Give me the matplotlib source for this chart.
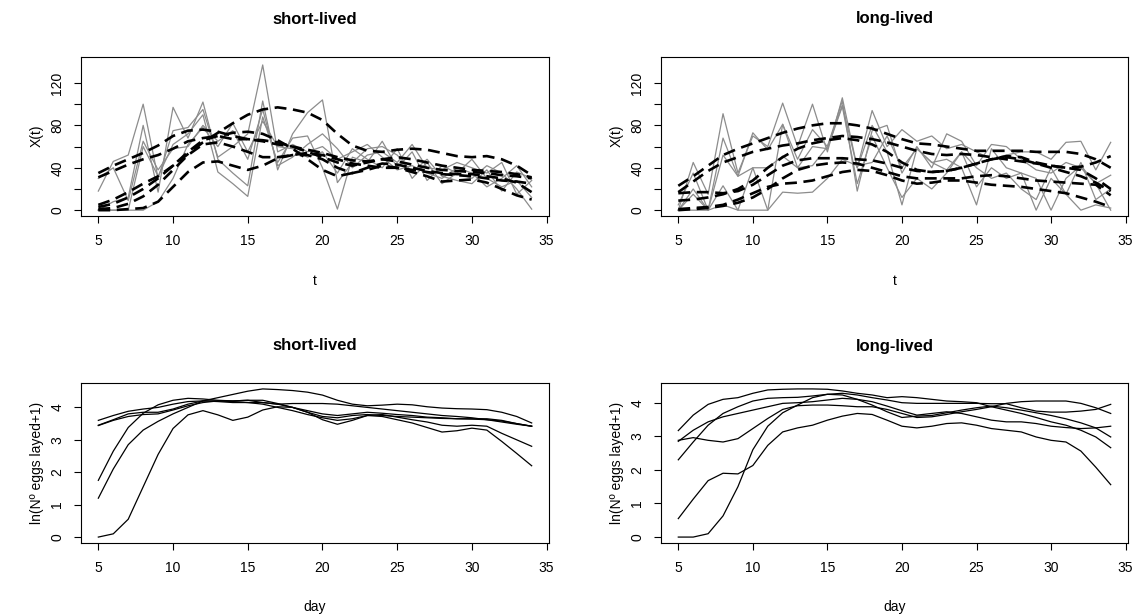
#
# Egg laying curves, short-lived vs long-lived flies (R-style 2x2 panels)
#
import matplotlib
matplotlib.use('Agg')
import matplotlib.pyplot as plt

plt.rcParams['font.family'] = ['Liberation Sans', 'DejaVu Sans']

# Data
days = list(range(5, 35))

# top left: raw counts (grey) and smoothed curves (dashed)
tl_grey = [
    [18, 46, 52, 100, 30, 75, 78, 95, 50, 60, 72, 137, 55, 62, 55, 60, 48, 55, 62, 50, 38, 42, 35, 30, 40, 35, 22, 30, 42, 22],
    [0, 8, 12, 80, 17, 97, 68, 102, 48, 35, 23, 103, 38, 72, 92, 104, 26, 45, 58, 60, 52, 36, 48, 32, 28, 25, 38, 18, 36, 30],
    [0, 0, 0, 60, 32, 62, 72, 90, 36, 25, 13, 88, 45, 68, 70, 40, 1, 50, 45, 65, 40, 55, 28, 42, 35, 48, 30, 22, 28, 12],
    [0, 0, 0, 0, 8, 30, 62, 78, 60, 82, 55, 84, 60, 58, 50, 55, 35, 58, 48, 40, 58, 30, 45, 25, 35, 30, 42, 35, 20, 1],
    [30, 40, 9, 65, 38, 58, 60, 80, 65, 75, 48, 95, 42, 50, 62, 72, 58, 40, 52, 55, 45, 62, 40, 38, 45, 40, 35, 45, 15, 28],
]
tl_dash = [
    [5, 10, 17, 25, 32, 42, 53, 64, 73, 82, 90, 95, 97, 95, 92, 85, 72, 61, 56, 55, 57, 58, 57, 54, 51, 50, 51, 48, 42, 33],
    [0, 0, 1, 2, 8, 22, 36, 45, 46, 42, 38, 42, 49, 52, 52, 48, 40, 35, 38, 42, 40, 36, 32, 27, 28, 29, 26, 20, 14, 10],
    [35, 42, 48, 54, 61, 70, 75, 76, 74, 70, 67, 65, 62, 60, 57, 54, 50, 47, 46, 48, 50, 48, 45, 42, 40, 38, 37, 36, 34, 31],
    [31, 37, 43, 48, 52, 58, 65, 68, 70, 67, 67, 66, 64, 60, 55, 50, 45, 42, 45, 48, 46, 43, 40, 38, 37, 36, 35, 33, 32, 30],
    [3, 6, 12, 20, 30, 42, 55, 66, 70, 73, 74, 72, 66, 58, 48, 38, 32, 35, 40, 44, 43, 40, 37, 35, 34, 34, 32, 30, 26, 17],
    [1, 2, 6, 13, 24, 38, 52, 62, 64, 60, 55, 50, 50, 52, 54, 52, 48, 44, 42, 40, 40, 38, 36, 34, 33, 32, 30, 28, 27, 25],
]

# top right
tr_grey = [
    [0, 45, 15, 91, 35, 70, 60, 101, 60, 100, 55, 106, 40, 94, 60, 76, 65, 70, 58, 62, 55, 48, 52, 55, 55, 48, 64, 65, 38, 64],
    [5, 35, 0, 68, 32, 73, 57, 81, 48, 76, 60, 103, 18, 75, 80, 35, 60, 40, 72, 65, 42, 62, 60, 48, 38, 35, 45, 40, 25, 33],
    [0, 15, 0, 52, 32, 40, 40, 51, 40, 42, 60, 99, 40, 80, 55, 5, 58, 45, 48, 40, 5, 58, 40, 35, 30, 0, 30, 42, 25, 0],
    [0, 0, 0, 23, 0, 0, 0, 81, 40, 60, 58, 98, 25, 70, 40, 12, 30, 20, 35, 55, 40, 30, 35, 20, 10, 40, 15, 45, 10, 20],
    [0, 20, 0, 5, 0, 40, 0, 17, 16, 17, 30, 48, 42, 45, 70, 40, 58, 45, 38, 55, 22, 40, 30, 35, 0, 30, 15, 0, 5, 2],
]
tr_dash = [
    [23, 32, 42, 52, 58, 63, 68, 73, 77, 80, 82, 82, 80, 77, 72, 67, 63, 62, 60, 58, 56, 56, 56, 56, 55, 55, 55, 53, 48, 40],
    [17, 27, 37, 45, 50, 55, 58, 61, 63, 66, 68, 70, 69, 67, 64, 60, 56, 53, 52, 53, 52, 50, 48, 46, 44, 42, 40, 38, 30, 20],
    [16, 17, 17, 16, 18, 24, 33, 42, 47, 49, 49, 49, 48, 47, 44, 40, 37, 36, 37, 40, 44, 48, 51, 50, 45, 42, 40, 41, 45, 51],
    [9, 10, 12, 15, 20, 28, 40, 50, 58, 63, 66, 68, 66, 62, 55, 45, 38, 36, 37, 40, 44, 48, 50, 48, 44, 40, 36, 32, 26, 18],
    [1, 2, 3, 5, 10, 16, 22, 25, 26, 28, 32, 36, 38, 37, 33, 28, 25, 26, 28, 28, 26, 24, 23, 22, 20, 18, 16, 12, 8, 3],
    [0, 1, 2, 4, 7, 12, 20, 30, 38, 42, 44, 45, 44, 40, 36, 32, 30, 30, 30, 30, 32, 33, 32, 30, 28, 27, 26, 25, 24, 14],
]

# bottom left: ln(eggs + 1)
bl_lines = [
    [0.0, 0.1, 0.55, 1.55, 2.55, 3.35, 3.77, 3.9, 3.77, 3.6, 3.7, 3.92, 4.02, 4.0, 3.85, 3.62, 3.48, 3.6, 3.75, 3.72, 3.62, 3.52, 3.38, 3.24, 3.28, 3.36, 3.3, 2.95, 2.58, 2.2],
    [1.2, 2.1, 2.85, 3.3, 3.57, 3.8, 4.0, 4.2, 4.2, 4.18, 4.15, 4.1, 4.0, 3.9, 3.78, 3.68, 3.6, 3.65, 3.75, 3.78, 3.7, 3.62, 3.55, 3.45, 3.42, 3.45, 3.42, 3.2, 3.0, 2.8],
    [1.75, 2.65, 3.38, 3.82, 4.08, 4.22, 4.28, 4.26, 4.22, 4.2, 4.22, 4.22, 4.12, 4.0, 3.85, 3.72, 3.68, 3.75, 3.78, 3.75, 3.72, 3.7, 3.68, 3.66, 3.65, 3.64, 3.62, 3.58, 3.5, 3.42],
    [3.6, 3.75, 3.88, 3.95, 4.0, 4.1, 4.18, 4.2, 4.3, 4.4, 4.5, 4.57, 4.55, 4.52, 4.47, 4.38, 4.22, 4.1, 4.05, 4.07, 4.1, 4.08, 4.02, 3.98, 3.96, 3.95, 3.93, 3.85, 3.72, 3.52],
    [3.44, 3.6, 3.72, 3.78, 3.8, 3.92, 4.05, 4.15, 4.2, 4.2, 4.22, 4.15, 4.1, 4.12, 4.12, 4.12, 4.1, 4.05, 4.0, 3.95, 3.9, 3.85, 3.8, 3.75, 3.72, 3.68, 3.62, 3.55, 3.48, 3.42],
    [3.45, 3.62, 3.8, 3.85, 3.85, 3.95, 4.1, 4.2, 4.18, 4.15, 4.15, 4.15, 4.1, 4.0, 3.9, 3.8, 3.75, 3.8, 3.85, 3.82, 3.78, 3.75, 3.7, 3.68, 3.65, 3.65, 3.65, 3.6, 3.5, 3.42],
]

# bottom right
br_lines = [
    [0.0, 0.0, 0.1, 0.63, 1.5, 2.6, 3.3, 3.7, 3.93, 4.15, 4.25, 4.23, 4.1, 3.93, 3.73, 3.56, 3.6, 3.62, 3.7, 3.78, 3.85, 3.9, 3.85, 3.78, 3.7, 3.62, 3.52, 3.4, 3.25, 2.98],
    [0.55, 1.13, 1.68, 1.9, 1.88, 2.13, 2.73, 3.13, 3.25, 3.33, 3.48, 3.6, 3.68, 3.65, 3.48, 3.3, 3.25, 3.3, 3.38, 3.4, 3.33, 3.23, 3.18, 3.13, 2.98, 2.88, 2.83, 2.56, 2.08, 1.56],
    [2.3, 2.83, 3.33, 3.68, 3.88, 4.05, 4.13, 4.15, 4.16, 4.2, 4.25, 4.28, 4.23, 4.15, 4.08, 4.0, 3.98, 3.98, 3.98, 3.98, 3.98, 3.97, 3.97, 3.85, 3.75, 3.72, 3.72, 3.75, 3.8, 3.95],
    [3.17, 3.63, 3.95, 4.1, 4.15, 4.28, 4.38, 4.4, 4.41, 4.41, 4.4, 4.35, 4.28, 4.23, 4.15, 4.18, 4.15, 4.1, 4.05, 4.03, 4.0, 3.88, 3.78, 3.68, 3.56, 3.43, 3.33, 3.18, 2.98, 2.66],
    [2.88, 2.96, 2.88, 2.83, 2.93, 3.23, 3.53, 3.8, 3.91, 3.93, 3.93, 3.91, 3.88, 3.88, 3.8, 3.68, 3.56, 3.58, 3.65, 3.73, 3.8, 3.88, 3.98, 4.03, 4.05, 4.05, 4.05, 3.98, 3.85, 3.68],
    [2.85, 3.18, 3.43, 3.58, 3.68, 3.78, 3.88, 3.98, 4.0, 4.03, 4.08, 4.13, 4.1, 4.03, 3.9, 3.76, 3.63, 3.68, 3.73, 3.68, 3.58, 3.48, 3.43, 3.43, 3.38, 3.3, 3.26, 3.23, 3.25, 3.3],
]

titles = ['short-lived', 'long-lived']
xticks = [5, 10, 15, 20, 25, 30, 35]
top_yticks = [0, 20, 40, 60, 80, 100, 120]
top_ylabels = ['0', '', '40', '', '80', '', '120']   # R drops overlapping labels
bot_yticks = [0, 1, 2, 3, 4]
bot_ylabels = ['0', '1', '2', '3', '4']

# Figure, pixel layout like R's par(mfrow=c(2,2))
W, H = 1135, 615
fig = plt.figure(figsize=(W / 100, H / 100), dpi=100, facecolor='white')

def px_axes(left, right, top, bottom):
    return fig.add_axes([left / W, (H - bottom) / H, (right - left) / W, (bottom - top) / H])

def r_style(ax, yticks, ylabels, xlim, ylim):
    ax.set_xlim(xlim)
    ax.set_ylim(ylim)
    ax.set_xticks(xticks)
    ax.set_yticks(yticks)
    ax.set_yticklabels(ylabels, rotation=90, va='center')
    for s in ['top', 'bottom', 'left', 'right']:
        ax.spines[s].set_linewidth(0.8)
        ax.spines[s].set_color('black')
    ax.tick_params(direction='out', length=5, width=0.8, labelsize=10,
                   colors='black')
    ax.tick_params(axis='x', pad=8)
    ax.tick_params(axis='y', pad=7)

xlim = (3.84, 35.16)
lefts = [81, 661]
rights = [549, 1128]

# top row
for k, (grey, dash) in enumerate([(tl_grey, tl_dash), (tr_grey, tr_dash)]):
    ax = px_axes(lefts[k], rights[k], 57, 216)
    for g in grey:
        ax.plot(days, g, '-', color='#8c8c8c', linewidth=0.9)
    for d in dash:
        ax.plot(days, d, color='black', linewidth=1.9, dashes=(4.5, 2.5))
    r_style(ax, top_yticks, top_ylabels, xlim, (-5.5, 144.5))
    cx = (lefts[k] + rights[k]) / 2
    fig.text(cx / W, 1 - 19 / H, titles[k], ha='center', va='center',
             fontsize=12, fontweight='bold')
    fig.text(cx / W, 1 - 281 / H, 't', ha='center', va='center', fontsize=10)
    fig.text((lefts[k] - 44) / W, 1 - 136 / H, 'X(t)', ha='center', va='center',
             rotation=90, fontsize=10)

# bottom row
for k, lines in enumerate([bl_lines, br_lines]):
    ax = px_axes(lefts[k], rights[k], 383, 543)
    for y in lines:
        ax.plot(days, y, '-', color='black', linewidth=0.9)
    top = max(max(y) for y in lines)
    r_style(ax, bot_yticks, bot_ylabels, xlim, (-0.04 * top, top * 1.04))
    cx = (lefts[k] + rights[k]) / 2
    fig.text(cx / W, 1 - 346 / H, titles[k], ha='center', va='center',
             fontsize=12, fontweight='bold')
    fig.text(cx / W, 1 - 607 / H, 'day', ha='center', va='center', fontsize=10)
    fig.text((lefts[k] - 44) / W, 1 - 463 / H, 'ln(Nº eggs layed+1)', ha='center',
             va='center', rotation=90, fontsize=10)

fig.savefig('out.png', dpi=100, facecolor='white')
plt.close()
